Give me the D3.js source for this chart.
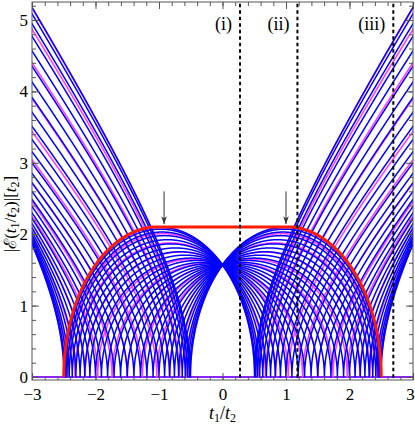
<!DOCTYPE html>
<html><head><meta charset="utf-8">
<script src="https://cdn.jsdelivr.net/npm/d3@7/dist/d3.min.js"></script>
<style>
html,body{margin:0;padding:0;background:#fff;}
svg text{font-family:"Liberation Serif","DejaVu Serif",serif;}
</style></head>
<body><svg id="c" width="415" height="426"></svg>
<script>
// ---- data ----
const xTicks = [-3, -2, -1, 0, 1, 2, 3];
const yTicks = [0, 1, 2, 3, 4, 5];
const xTickLabels = ["\u22123", "\u22122", "\u22121", "0", "1", "2", "3"];
const yTickLabels = ["0", "1", "2", "3", "4", "5"];
// common value of every curve at t1/t2 = 0
const E0 = 1.57;
// half distance between the two zeros of one curve
const halfGap = 1.5;
// centre of each curve's pair of zeros (zeros at centre ± halfGap)
const blueCentres = [0.995, 0.978, 0.951, 0.914, 0.866, 0.809, 0.743, 0.669, 0.588, 0.5,
  0.407, 0.309, 0.208, 0.105, 0, -0.105, -0.208, -0.309, -0.407, -0.5,
  -0.588, -0.669, -0.743, -0.809, -0.866, -0.914, -0.951, -0.978, -0.995];
const magentaCentres = [0.993, 0.935, 0.823, 0.663, 0.465, 0.239, 0, -0.239, -0.465, -0.663, -0.823, -0.935, -0.993];
// zero-energy modes
const zeroModes = [0];
// red bound: outer curves (centres -1 and +1) joined by a flat top
const redCentres = [-1, 1];
const redTop = 2.1;
// markers
const cutX = [0.276, 1.18, 2.69];
const cutLabels = ["(i)", "(ii)", "(iii)"];
const arrowX = [-0.92, 1.0];
const arrowFrom = 2.6, arrowTo = 2.14;

// ---- layout ----
const L = 32, R = 413, T = 2, B = 380;
const x = d3.scaleLinear().domain([-3, 3]).range([L, R]);
const y = d3.scaleLinear().domain([-0.042, 5.252]).range([B, T]);
const svg = d3.select("#c");

svg.append("defs").append("clipPath").attr("id", "clip")
  .append("rect").attr("x", L).attr("y", T).attr("width", R - L).attr("height", B - T);
const plot = svg.append("g").attr("clip-path", "url(#clip)");

function energy(c, t) {
  const x0 = c - halfGap, x1 = c + halfGap;
  const q = E0 * E0 / (-(x0 * x1));
  return Math.sqrt(Math.abs(q * (t - x0) * (x1 - t)));
}
function samples(c, lo, hi) {
  const pts = d3.range(lo, hi, 0.004);
  pts.push(hi);
  [c - halfGap, c + halfGap].forEach(z => { if (z > lo && z < hi) pts.push(z); });
  pts.sort((a, b) => a - b);
  return pts;
}
const line = d3.line().x(d => x(d[0])).y(d => y(d[1]));

function drawFamily(centres, color, width) {
  plot.append("g").selectAll("path").data(centres).join("path")
    .attr("d", c => line(samples(c, -3.1, 3.1).map(t => [t, energy(c, t)])))
    .attr("fill", "none").attr("stroke", color).attr("stroke-width", width)
    .attr("stroke-linejoin", "round");
}

// zero modes line
plot.selectAll("path.zb").data(zeroModes).join("path").attr("class", "zb")
  .attr("d", v => line([[-3.1, v], [3.1, v]]))
  .attr("stroke", "#0000ff").attr("stroke-width", 2).attr("fill", "none");
plot.selectAll("path.zm").data(zeroModes).join("path").attr("class", "zm")
  .attr("d", v => line([[-3.1, v], [3.1, v]]))
  .attr("stroke", "#ff40ff").attr("stroke-width", 2).attr("stroke-opacity", 0.55).attr("fill", "none");

drawFamily(magentaCentres, "#ff40ff", 1.6);
drawFamily(blueCentres, "#0000ff", 1.5);

// red bound
(function () {
  const cL = redCentres[0], cR = redCentres[1];
  const pts = [];
  samples(cL, cL - halfGap, cL).forEach(t => pts.push([t, Math.min(energy(cL, t), redTop)]));
  pts.push([cR, redTop]);
  samples(cR, cR, cR + halfGap).forEach(t => pts.push([t, Math.min(energy(cR, t), redTop)]));
  plot.append("path").attr("d", line(pts)).attr("fill", "none")
    .attr("stroke", "#ff1a00").attr("stroke-width", 3).attr("stroke-linejoin", "round");
})();

// dashed cuts
plot.selectAll("line.cut").data(cutX).join("line").attr("class", "cut")
  .attr("x1", d => x(d)).attr("x2", d => x(d)).attr("y1", y(-0.1)).attr("y2", y(5.4))
  .attr("stroke", "#000").attr("stroke-width", 2).attr("stroke-dasharray", "3.5,3");
svg.selectAll("text.cutl").data(cutX).join("text").attr("class", "cutl")
  .attr("x", d => x(d) - 8).attr("y", 30).attr("text-anchor", "end")
  .attr("font-size", 18).text((d, i) => cutLabels[i]);

// arrows
svg.append("defs").append("marker").attr("id", "ah").attr("viewBox", "0 0 10 10")
  .attr("refX", 10).attr("refY", 5).attr("markerWidth", 8).attr("markerHeight", 8)
  .attr("markerUnits", "userSpaceOnUse").attr("orient", "auto")
  .append("path").attr("d", "M0,1.5 L10,5 L0,8.5 L3,5 Z").attr("fill", "#333");
svg.selectAll("line.arr").data(arrowX).join("line").attr("class", "arr")
  .attr("x1", d => x(d)).attr("x2", d => x(d)).attr("y1", y(arrowFrom)).attr("y2", y(arrowTo))
  .attr("stroke", "#333").attr("stroke-width", 1).attr("marker-end", "url(#ah)");

// ---- axes / frame ----
const frameColor = "#555";
const minorX = d3.range(-3, 3.001, 0.2).map(v => +v.toFixed(2));
const minorY = d3.range(0, 5.21, 0.2).map(v => +v.toFixed(2));
function styleAxis(g) {
  g.select(".domain").remove();
  g.selectAll("line").attr("stroke", frameColor).attr("stroke-width", 1);
  g.selectAll("text").attr("font-size", 17).attr("fill", "#000")
    .attr("font-family", "Liberation Serif, serif");
}
// bottom
svg.append("g").attr("transform", `translate(0,${B})`)
  .call(d3.axisBottom(x).tickValues(minorX).tickSize(-4).tickFormat("")).call(styleAxis);
const bx = svg.append("g").attr("transform", `translate(0,${B})`)
  .call(d3.axisBottom(x).tickValues(xTicks).tickSize(-7).tickPadding(8)
    .tickFormat((d, i) => xTickLabels[i])).call(styleAxis);
bx.selectAll("text").filter(d => d === 3).attr("dx", -3);
// top
svg.append("g").attr("transform", `translate(0,${T})`)
  .call(d3.axisTop(x).tickValues(minorX).tickSize(-4).tickFormat("")).call(styleAxis);
svg.append("g").attr("transform", `translate(0,${T})`)
  .call(d3.axisTop(x).tickValues(xTicks).tickSize(-7).tickFormat("")).call(styleAxis);
// left
svg.append("g").attr("transform", `translate(${L},0)`)
  .call(d3.axisLeft(y).tickValues(minorY).tickSize(-4).tickFormat("")).call(styleAxis);
svg.append("g").attr("transform", `translate(${L},0)`)
  .call(d3.axisLeft(y).tickValues(yTicks).tickSize(-7).tickPadding(4)
    .tickFormat((d, i) => yTickLabels[i])).call(styleAxis);
// right
svg.append("g").attr("transform", `translate(${R},0)`)
  .call(d3.axisRight(y).tickValues(minorY).tickSize(-4).tickFormat("")).call(styleAxis);
svg.append("g").attr("transform", `translate(${R},0)`)
  .call(d3.axisRight(y).tickValues(yTicks).tickSize(-7).tickFormat("")).call(styleAxis);
svg.append("rect").attr("x", L).attr("y", T).attr("width", R - L).attr("height", B - T)
  .attr("fill", "none").attr("stroke", frameColor).attr("stroke-width", 1);

// axis titles
const xt = svg.append("text").attr("x", x(0)).attr("y", 419).attr("text-anchor", "middle").attr("font-size", 18);
xt.append("tspan").attr("font-style", "italic").text("t");
xt.append("tspan").attr("font-size", 12).attr("dy", 3).text("1");
xt.append("tspan").attr("dy", -3).text("/");
xt.append("tspan").attr("font-style", "italic").text("t");
xt.append("tspan").attr("font-size", 12).attr("dy", 3).text("2");

const yt = svg.append("text").attr("transform", `translate(16,${214}) rotate(-90)`)
  .attr("text-anchor", "middle").attr("font-size", 17);
yt.append("tspan").text("|\u2130(");
yt.append("tspan").attr("font-style", "italic").text("t");
yt.append("tspan").attr("font-size", 12).attr("dy", 3).text("1");
yt.append("tspan").attr("dy", -3).text("/");
yt.append("tspan").attr("font-style", "italic").text("t");
yt.append("tspan").attr("font-size", 12).attr("dy", 3).text("2");
yt.append("tspan").attr("dy", -3).text(")|[");
yt.append("tspan").attr("font-style", "italic").text("t");
yt.append("tspan").attr("font-size", 12).attr("dy", 3).text("2");
yt.append("tspan").attr("dy", -3).text("]");
</script></body></html>
